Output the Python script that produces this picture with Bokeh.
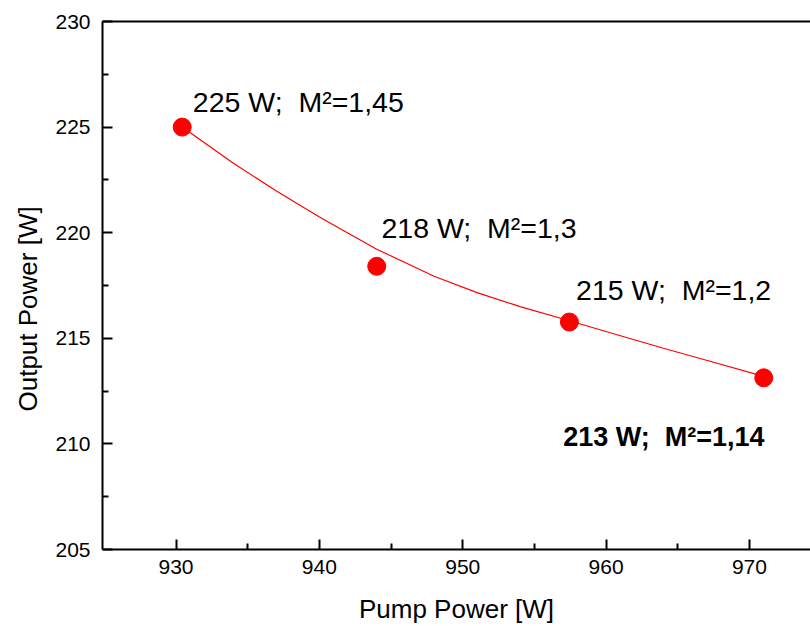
from bokeh.plotting import figure
from bokeh.models import Range1d, FixedTicker, LinearAxis, Title
from bokeh.core.properties import value
from bokeh.embed import file_html
from bokeh.resources import INLINE

# ---- data ----
pump_power = [930.43, 944.0, 957.44, 971.0]
output_power = [225.0, 218.41, 215.77, 213.13]
point_labels = ["225 W;\u00a0 M²=1,45", "218 W;\u00a0 M²=1,3", "215 W;\u00a0 M²=1,2", "213 W;\u00a0 M²=1,14"]

fit_x = [930.43, 934.0, 937.0, 940.0, 944.0, 948.0, 951.0, 954.0, 957.44, 961.0, 964.0, 967.0, 971.0]
fit_y = [225.0, 223.29, 221.97, 220.74, 219.22, 217.94, 217.16, 216.5, 215.83, 215.12, 214.53, 213.96, 213.2]

x_ticks = [930, 940, 950, 960, 970]
x_minor = [935, 945, 955, 965]
y_ticks = [205, 210, 215, 220, 225, 230]
y_minor = [207.5, 212.5, 217.5, 222.5, 227.5]

FONT = "Liberation Sans"

p = figure(width=810, height=626, output_backend="svg", toolbar_location=None,
           x_range=Range1d(924.87, 974.26), y_range=Range1d(205, 230),
           min_border_left=102, min_border_right=0, min_border_top=21, min_border_bottom=75,
           background_fill_color="white", border_fill_color="white")
p.outline_line_color = None
p.grid.visible = False

for ax in (p.xaxis[0], p.yaxis[0]):
    ax.axis_line_width = 2
    ax.axis_line_color = "black"
    ax.major_tick_line_width = 2
    ax.minor_tick_line_width = 2
    ax.major_tick_in = 10
    ax.major_tick_out = 0
    ax.minor_tick_in = 6
    ax.minor_tick_out = 0
    ax.major_label_text_font = FONT
    ax.major_label_text_font_size = "21px"
    ax.major_label_text_color = "black"

p.xaxis[0].ticker = FixedTicker(ticks=x_ticks, minor_ticks=x_minor)
p.yaxis[0].ticker = FixedTicker(ticks=y_ticks, minor_ticks=y_minor)
p.xaxis[0].major_label_standoff = 10
p.yaxis[0].major_label_standoff = 12

p.xaxis[0].axis_label = "Pump Power [W]"
p.xaxis[0].axis_label_text_font = FONT
p.xaxis[0].axis_label_text_font_size = "26px"
p.xaxis[0].axis_label_text_font_style = "normal"
p.xaxis[0].axis_label_text_color = "black"
p.xaxis[0].axis_label_standoff = 17

# top border line (axis without ticks/labels)
top = LinearAxis(ticker=FixedTicker(ticks=[]), major_label_text_font_size="0px",
                 axis_line_width=2, major_tick_in=0, major_tick_out=0,
                 minor_tick_in=0, minor_tick_out=0)
p.add_layout(top, "above")

# y axis title as a left-side title (allows shifting along the axis)
ytitle = Title(text="Output Power [W]", align="left", offset=138,
               text_font=FONT, text_font_size="26px", text_font_style="normal",
               text_color="black", standoff=19)
p.add_layout(ytitle, "left")

# fit curve and points
p.line(fit_x, fit_y, line_color="#ff0000", line_width=1.2)
p.scatter(pump_power, output_power, size=18, fill_color="#ff0000", line_color="#ff0000")

# annotations anchored to the data points with pixel offsets
dx = [10.6, 4.7, 6.7, -200.6]
dy = [-25.0, -38.6, -31.6, 59.4]
p.text(x=pump_power[:3], y=output_power[:3], text=point_labels[:3],
       x_offset=dx[:3], y_offset=dy[:3],
       text_font=value(FONT), text_font_size="28.5px", text_color="black",
       text_align="left", text_baseline="alphabetic")
p.text(x=pump_power[3:], y=output_power[3:], text=point_labels[3:],
       x_offset=dx[3:], y_offset=dy[3:],
       text_font=value(FONT), text_font_size="27px", text_font_style="bold",
       text_color="black", text_align="left", text_baseline="alphabetic")

open("out.html", "w").write(file_html(p, INLINE))
